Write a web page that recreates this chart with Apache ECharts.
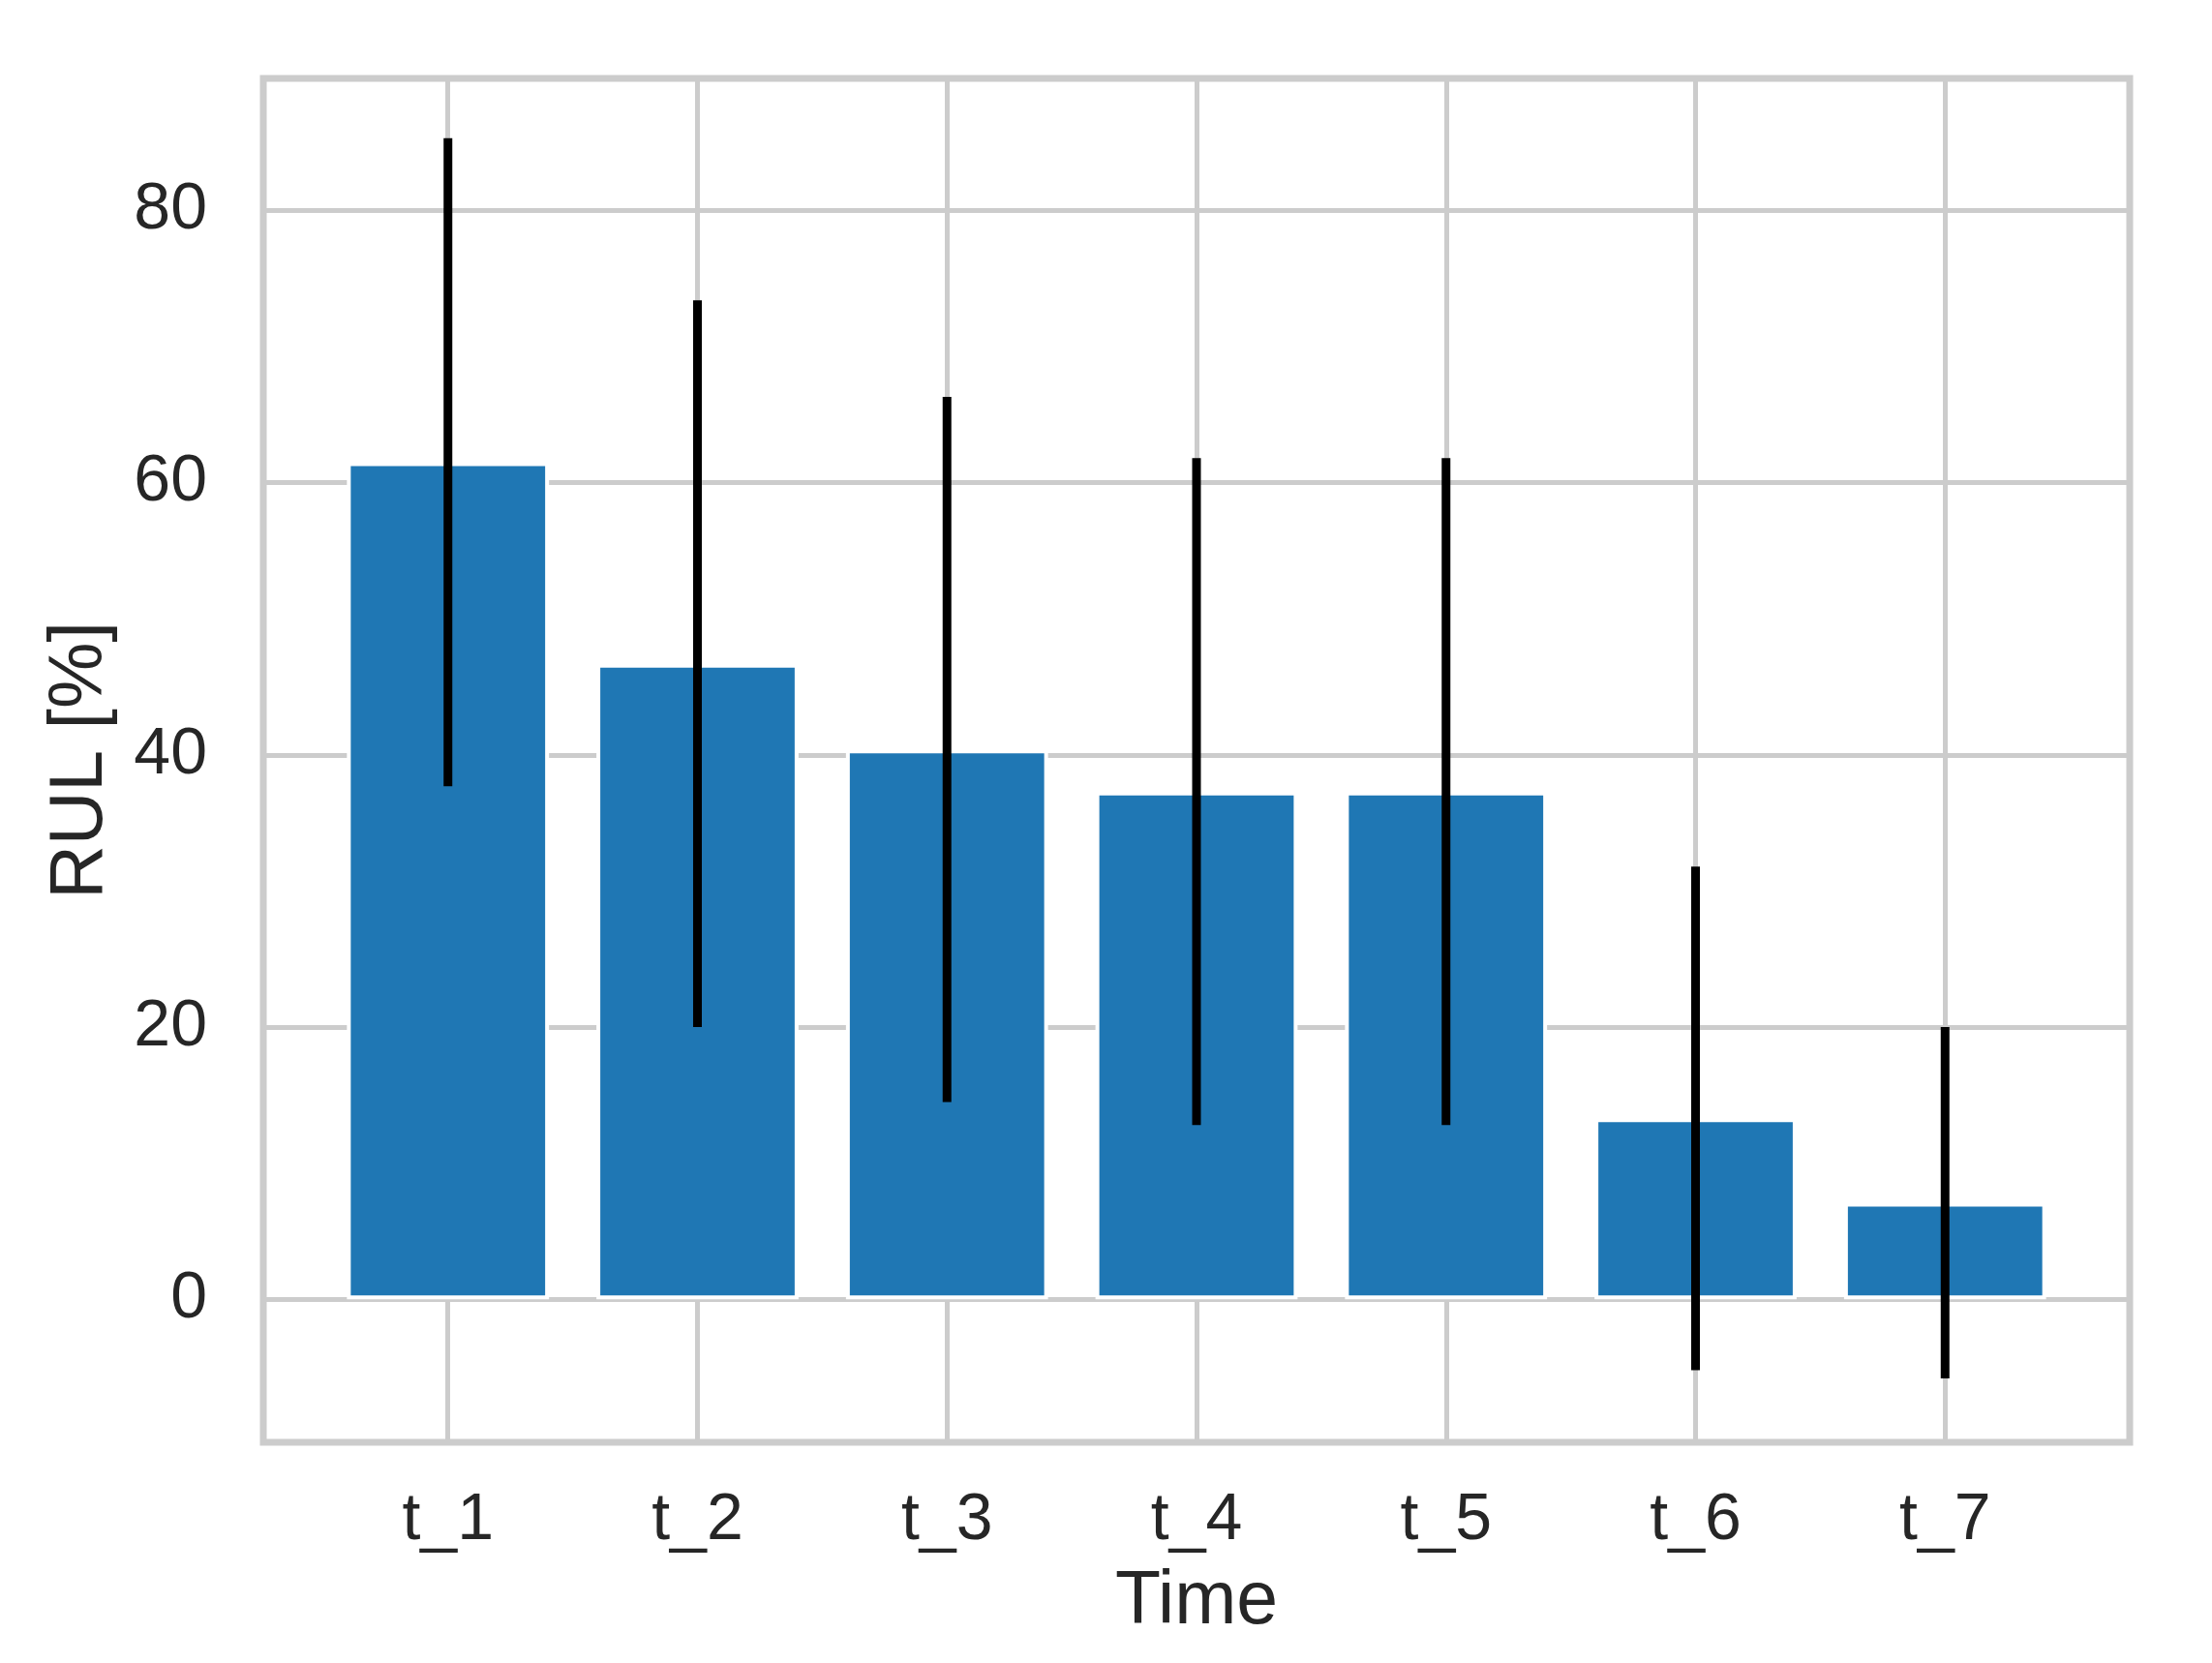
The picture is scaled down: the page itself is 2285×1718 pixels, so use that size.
<!DOCTYPE html>
<html>
<head>
<meta charset="utf-8">
<title>RUL per time step</title>
<script src="https://cdn.jsdelivr.net/npm/echarts@6/dist/echarts.min.js"></script>
<style>
  html, body { margin: 0; padding: 0; background: #fff; }
  #chart { width: 2285px; height: 1718px; }
</style>
</head>
<body>
<div id="chart"></div>
<script>
// data
const categories = ['t_1', 't_2', 't_3', 't_4', 't_5', 't_6', 't_7'];
const rulValues = [61.5, 46.7, 40.4, 37.3, 37.3, 13.3, 7.1];
const rulErrors = [23.8, 26.7, 25.9, 24.5, 24.5, 18.5, 12.9];
const yTicks = [0, 20, 40, 60, 80];

const barData = rulValues.map((v, i) => [i, v]);
const errData = rulValues.map((v, i) => [i, v, rulErrors[i]]);

const FONT = '"Liberation Sans", Arial, sans-serif';
const TEXT = '#262626';
const GRID = '#cccccc';

//添加图表
function addChart(dom, option) {
  let myChart = echarts.init(dom);
  myChart.setOption(option);
  window.addEventListener('resize', function () {
    myChart.resize();
  });
  return myChart;
}

const option = {
  backgroundColor: '#fff',
  animation: false,
  grid: {
    left: 272, right: 85, top: 81, bottom: 228,
    show: true, borderColor: GRID, borderWidth: 7
  },
  xAxis: {
    type: 'value',
    min: -0.74, max: 6.74,
    minInterval: 1, maxInterval: 1,
    name: 'Time',
    nameLocation: 'middle',
    nameGap: 127,
    nameTextStyle: { fontSize: 77, color: TEXT, fontFamily: FONT },
    axisLine: { show: false },
    axisTick: { show: false },
    axisLabel: {
      margin: 47, fontSize: 68, color: TEXT, fontFamily: FONT,
      formatter: v => Number.isInteger(v) ? categories[v] : ''
    },
    splitLine: { show: true, lineStyle: { color: GRID, width: 5 } }
  },
  yAxis: {
    type: 'value',
    min: -10.5, max: 89.7,
    minInterval: 20, maxInterval: 20,
    name: 'RUL [%]',
    nameLocation: 'middle',
    nameGap: 150,
    nameTextStyle: { fontSize: 77, color: TEXT, fontFamily: FONT },
    axisLine: { show: false },
    axisTick: { show: false },
    axisLabel: {
      margin: 58, fontSize: 68, color: TEXT, fontFamily: FONT,
      formatter: v => yTicks.includes(v) ? String(v) : ''
    },
    splitLine: { show: true, lineStyle: { color: GRID, width: 5 } }
  },
  series: [
    {
      type: 'bar',
      data: barData,
      barWidth: '81%',
      itemStyle: { color: '#1f77b4', borderColor: '#ffffff', borderWidth: 4 }
    },
    {
      // error bars
      type: 'custom',
      data: errData,
      z: 5,
      renderItem(params, api) {
        const x = api.value(0), y = api.value(1), e = api.value(2);
        const top = api.coord([x, y + e]);
        const bottom = api.coord([x, y - e]);
        return {
          type: 'line',
          shape: { x1: top[0], y1: top[1], x2: bottom[0], y2: bottom[1] },
          style: { stroke: '#000', lineWidth: 9, lineCap: 'butt' }
        };
      }
    }
  ]
};

addChart(document.getElementById('chart'), option);
</script>
</body>
</html>
